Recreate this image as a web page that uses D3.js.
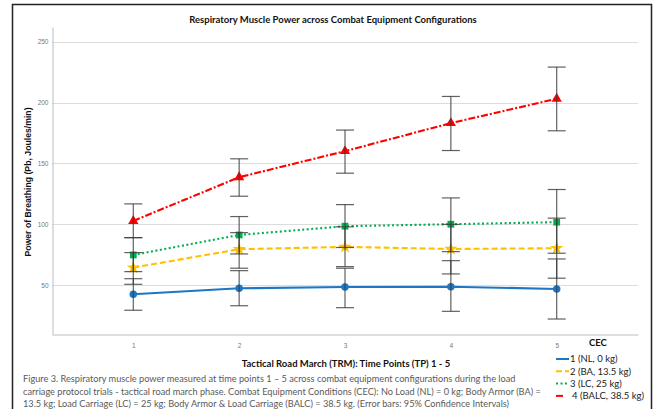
<!DOCTYPE html>
<html>
<head>
<meta charset="utf-8">
<script src="https://cdn.jsdelivr.net/npm/d3@7"></script>
<style>
  body { margin: 0; background: #fff; }
  text { font-family: "Lato", "Liberation Sans", sans-serif; }
</style>
</head>
<body>
<div id="container"></div>
<script>
// Time points and the four load conditions
var timePoints = [1, 2, 3, 4, 5];
var cecLabels = ["1 (NL, 0 kg)", "2 (BA, 13.5 kg)", "3 (LC, 25 kg)", "4 (BALC, 38.5 kg)"];

// Mean power of breathing per condition
var meanNL   = [42.6, 47.5, 48.6, 48.8, 47.0];
var meanBA   = [64.5, 79.6, 81.5, 79.8, 80.4];
var meanLC   = [74.9, 91.3, 98.5, 100.1, 101.8];
var meanBALC = [102.8, 138.7, 160.1, 183.1, 203.1];

// 95% confidence interval, lower and upper ends
var lowNL    = [29.5, 33.2, 31.6, 28.6, 22.3];
var highNL   = [55.4, 62.0, 64.0, 70.2, 71.6];
var lowBA    = [50.8, 64.0, 65.3, 59.3, 55.8];
var highBA   = [76.8, 93.2, 98.0, 100.0, 105.1];
var lowLC    = [61.2, 75.7, 81.0, 77.6, 76.3];
var highLC   = [89.1, 106.4, 116.2, 121.7, 128.6];
var lowBALC  = [89.1, 123.1, 142.0, 160.6, 176.8];
var highBALC = [116.8, 153.8, 177.4, 205.0, 229.1];

var yTicks = [50, 100, 150, 200, 250];

var width = 656;
var height = 409;

// series styling table
var series = [
  { name: cecLabels[0], mean: meanNL, low: lowNL, high: highNL, color: "#1f77c4", dash: null, symbol: d3.symbolCircle, size: 44 },
  { name: cecLabels[1], mean: meanBA, low: lowBA, high: highBA, color: "#ffc000", dash: "6,3", symbol: d3.symbolStar, size: 55 },
  { name: cecLabels[2], mean: meanLC, low: lowLC, high: highLC, color: "#00b050", dash: "2,2.5", symbol: d3.symbolSquare, size: 46 },
  { name: cecLabels[3], mean: meanBALC, low: lowBALC, high: highBALC, color: "#ff0000", dash: "7,2,2,2", symbol: d3.symbolTriangle, size: 46 }
];

var svg = d3.select("#container")
  .append("svg")
  .attr("width", width)
  .attr("height", height);

// outer frame
svg.append("path")
  .attr("d", "M12.5,409 L12.5,4.5 L651.5,4.5 L651.5,409")
  .attr("fill", "none")
  .attr("stroke", "#222")
  .attr("stroke-width", 1.5);

var plot = { left: 52, right: 638, top: 27, bottom: 334 };

var x = d3.scalePoint()
  .domain(timePoints)
  .range([plot.left, plot.right])
  .padding(0.768);

var y = d3.scaleLinear()
  .domain([10, 262])
  .range([plot.bottom, plot.top]);

// gridlines
svg.append("g")
  .selectAll("line")
  .data(yTicks)
  .enter()
  .append("line")
  .attr("x1", plot.left)
  .attr("x2", plot.right)
  .attr("y1", function(d) { return Math.round(y(d)) + 0.5; })
  .attr("y2", function(d) { return Math.round(y(d)) + 0.5; })
  .attr("stroke", "#dcdcdc")
  .attr("stroke-width", 1);

// axes
var yAxis = svg.append("g")
  .attr("transform", "translate(" + (plot.left + 0.5) + ",0)")
  .call(d3.axisLeft(y).tickValues(yTicks).tickSize(0).tickPadding(4));
var xAxis = svg.append("g")
  .attr("transform", "translate(0," + (plot.bottom + 0.5) + ")")
  .call(d3.axisBottom(x).tickSize(0).tickPadding(9));

[yAxis, xAxis].forEach(function(ax) {
  ax.select(".domain").attr("stroke", "#bdbdbd");
  ax.selectAll("text")
    .attr("fill", "#777")
    .style("font-family", "Liberation Sans, sans-serif")
    .style("font-size", "6.5px");
});

// lines
var line = d3.line()
  .x(function(d, i) { return x(timePoints[i]); })
  .y(function(d) { return y(d); });

svg.append("g")
  .selectAll("path")
  .data(series)
  .enter()
  .append("path")
  .attr("d", function(s) { return line(s.mean); })
  .attr("fill", "none")
  .attr("stroke", function(s) { return s.color; })
  .attr("stroke-width", 2.1)
  .attr("stroke-dasharray", function(s) { return s.dash; });

// markers
series.forEach(function(s) {
  svg.append("g")
    .selectAll("path")
    .data(s.mean)
    .enter()
    .append("path")
    .attr("transform", function(d, i) { return "translate(" + x(timePoints[i]) + "," + y(d) + ")"; })
    .attr("d", d3.symbol().type(s.symbol).size(s.size))
    .attr("fill", s.color);
});

// error bars
series.forEach(function(s) {
  var g = svg.append("g")
    .attr("stroke", "#3a3a3a")
    .attr("stroke-opacity", 0.8)
    .attr("stroke-width", 1.2);
  timePoints.forEach(function(t, i) {
    var cx = x(t);
    g.append("line")
      .attr("x1", cx).attr("x2", cx)
      .attr("y1", y(s.low[i])).attr("y2", y(s.high[i]));
    g.append("line")
      .attr("x1", cx - 9).attr("x2", cx + 9)
      .attr("y1", y(s.low[i])).attr("y2", y(s.low[i]));
    g.append("line")
      .attr("x1", cx - 9).attr("x2", cx + 9)
      .attr("y1", y(s.high[i])).attr("y2", y(s.high[i]));
  });
});

// titles
svg.append("text")
  .attr("x", 333)
  .attr("y", 23)
  .attr("text-anchor", "middle")
  .style("font-size", "9.5px")
  .style("font-weight", "bold")
  .attr("fill", "#111")
  .text("Respiratory Muscle Power across Combat Equipment Configurations");

svg.append("text")
  .attr("transform", "translate(31," + 182 + ") rotate(-90)")
  .attr("text-anchor", "middle")
  .style("font-family", "Liberation Sans, sans-serif")
  .style("font-size", "8.7px")
  .style("font-weight", "bold")
  .attr("fill", "#111")
  .text("Power of Breathing (Pb, Joules/min)");

svg.append("text")
  .attr("x", 346)
  .attr("y", 367)
  .attr("text-anchor", "middle")
  .style("font-size", "9.5px")
  .style("font-weight", "bold")
  .attr("fill", "#111")
  .text("Tactical Road March (TRM): Time Points (TP) 1 - 5");

// caption
var caption = [
  "Figure 3. Respiratory muscle power measured at time points 1 \u2013 5 across combat equipment configurations during the load",
  "carriage protocol trials - tactical road march phase. Combat Equipment Conditions (CEC): No Load (NL) = 0 kg; Body Armor (BA) =",
  "13.5 kg; Load Carriage (LC) = 25 kg; Body Armor & Load Carriage (BALC) = 38.5 kg.  (Error bars: 95% Confidence Intervals)"
];
svg.append("g")
  .selectAll("text")
  .data(caption)
  .enter()
  .append("text")
  .attr("x", 23)
  .attr("y", function(d, i) { return 382 + i * 12.7; })
  .style("font-size", "9.2px")
  .attr("fill", "#5a5a5a")
  .text(function(d) { return d; });

// legend
svg.append("text")
  .attr("x", 589)
  .attr("y", 346)
  .style("font-size", "9.5px")
  .style("font-weight", "bold")
  .attr("fill", "#111")
  .text("CEC");

var legend = svg.append("g")
  .selectAll("g")
  .data(series)
  .enter()
  .append("g")
  .attr("transform", function(d, i) { return "translate(556," + (359 + i * 12.3) + ")"; });

legend.append("line")
  .attr("x1", 0)
  .attr("x2", function(d, i) { return i == 3 ? 7 : 13; })
  .attr("y1", 0)
  .attr("y2", 0)
  .attr("stroke", function(s) { return s.color; })
  .attr("stroke-width", 2)
  .attr("stroke-dasharray", function(s, i) { return i == 0 || i == 3 ? null : s.dash; });

legend.append("text")
  .attr("x", function(d, i) { return i == 3 ? 16 : 14; })
  .attr("y", 3.3)
  .style("font-size", "9.5px")
  .attr("fill", "#222")
  .text(function(s) { return s.name; });
</script>
</body>
</html>
